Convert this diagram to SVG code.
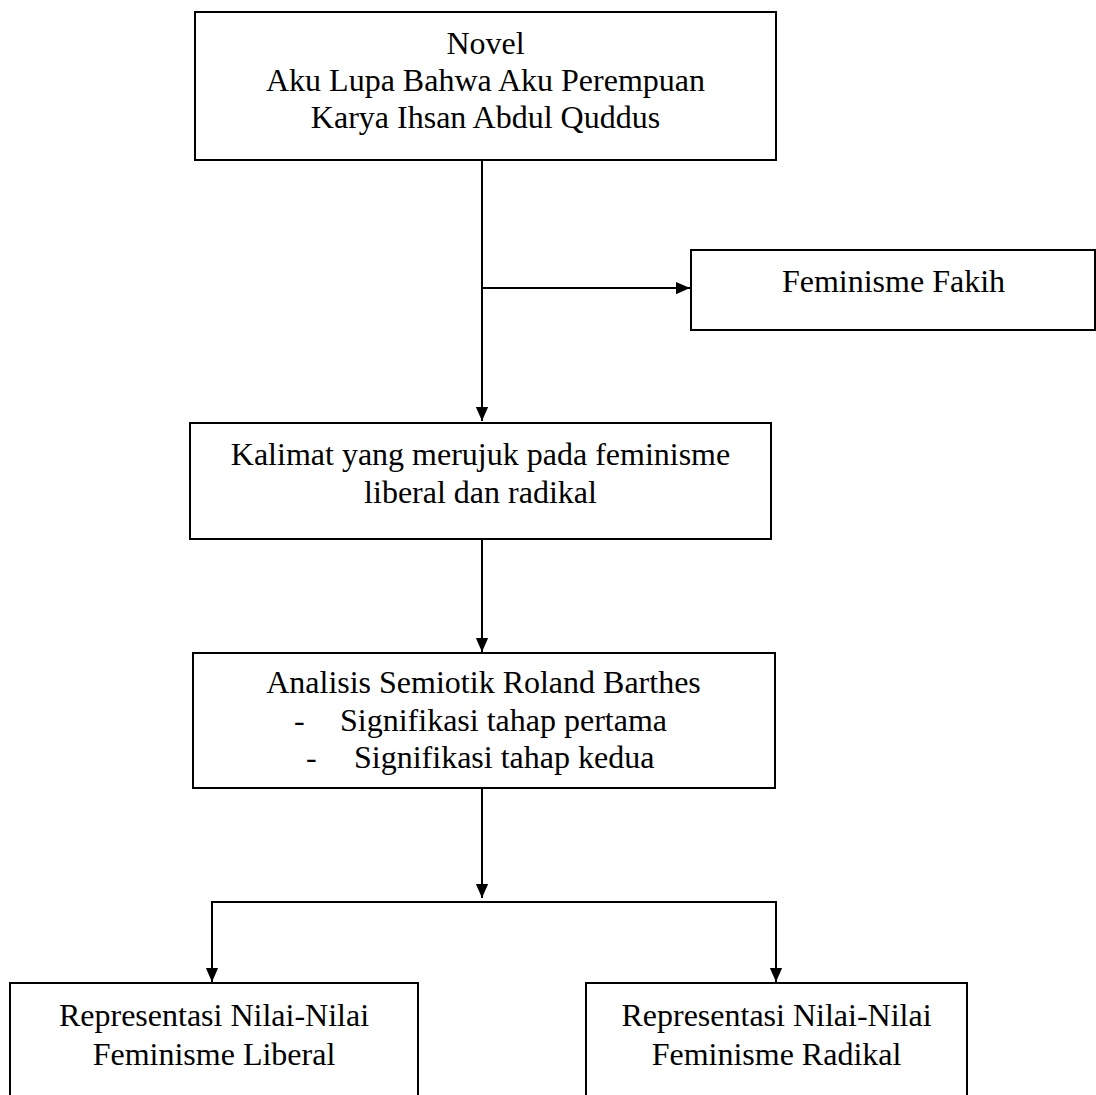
<svg xmlns="http://www.w3.org/2000/svg" width="1096" height="1095" viewBox="0 0 1096 1095">
<style>
.box{fill:#fff;stroke:#000;stroke-width:2}
.t{font-family:"Liberation Serif","Times New Roman",serif;font-size:32px;fill:#000}
.c{text-anchor:middle}
.ln{fill:none;stroke:#000;stroke-width:2}
</style>
<defs>
<marker id="ah" markerWidth="14" markerHeight="16" viewBox="0 0 16 14" refX="16" refY="7" orient="auto" markerUnits="userSpaceOnUse">
<path d="M0,0 L16,7 L0,14 Z" fill="#000"/>
</marker>
</defs>
<rect width="1096" height="1095" fill="#fff"/>
<g id="connectors">
<line class="ln" x1="482" y1="160" x2="482" y2="421" marker-end="url(#ah)"/>
<line class="ln" x1="482" y1="288" x2="690" y2="288" marker-end="url(#ah)"/>
<line class="ln" x1="482" y1="539" x2="482" y2="652" marker-end="url(#ah)"/>
<line class="ln" x1="482" y1="788" x2="482" y2="898" marker-end="url(#ah)"/>
<polyline class="ln" points="212,982 212,902 776,902 776,982" marker-end="url(#ah)"/>
<line class="ln" x1="212" y1="902" x2="212" y2="982" marker-end="url(#ah)"/>
</g>
<g id="node-novel">
<rect class="box" x="195" y="12" width="581" height="148"/>
<text class="t c" x="485.5" y="54">Novel</text>
<text class="t c" x="485.5" y="91">Aku Lupa Bahwa Aku Perempuan</text>
<text class="t c" x="485.5" y="128">Karya Ihsan Abdul Quddus</text>
</g>
<g id="node-fakih">
<rect class="box" x="691" y="250" width="404" height="80"/>
<text class="t c" x="893.5" y="292">Feminisme Fakih</text>
</g>
<g id="node-kalimat">
<rect class="box" x="190" y="423" width="581" height="116"/>
<text class="t c" x="480.5" y="465">Kalimat yang merujuk pada feminisme</text>
<text class="t c" x="480.5" y="503">liberal dan radikal</text>
</g>
<g id="node-analisis">
<rect class="box" x="193" y="653" width="582" height="135"/>
<text class="t c" x="483.5" y="693">Analisis Semiotik Roland Barthes</text>
<text class="t" x="294" y="731">-</text>
<text class="t" x="340" y="731">Signifikasi tahap pertama</text>
<text class="t" x="306" y="768">-</text>
<text class="t" x="354" y="768">Signifikasi tahap kedua</text>
</g>
<g id="node-liberal">
<rect class="box" x="10" y="983" width="408" height="130"/>
<text class="t c" x="214" y="1026">Representasi Nilai-Nilai</text>
<text class="t c" x="214" y="1065">Feminisme Liberal</text>
</g>
<g id="node-radikal">
<rect class="box" x="586" y="983" width="381" height="130"/>
<text class="t c" x="776.5" y="1026">Representasi Nilai-Nilai</text>
<text class="t c" x="776.5" y="1065">Feminisme Radikal</text>
</g>
</svg>
